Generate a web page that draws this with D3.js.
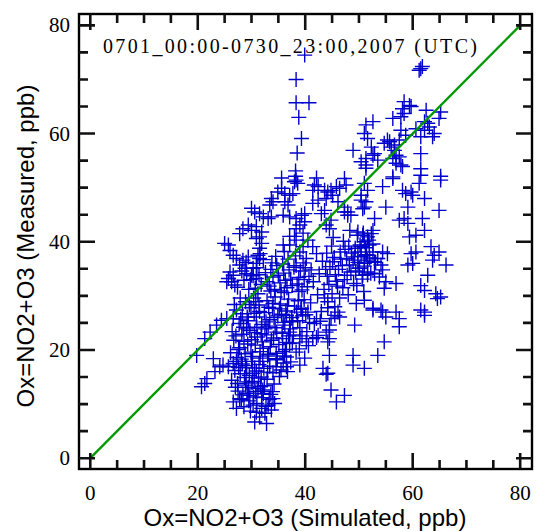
<!DOCTYPE html>
<html>
<head>
<meta charset="utf-8">
<script src="https://cdn.jsdelivr.net/npm/d3@7"></script>
<style>
  body { margin: 0; background: #fff; }
  svg { display: block; }
</style>
</head>
<body>
<div id="chart"></div>
<script>
// simulated (x) vs measured (y) Ox, ppb
var simulated = [
  39.9, 38.3, 38.3, 40.7, 38.8, 39.3, 38.5, 38.2, 38.2, 35.6, 42.1,
  61.5, 61.8, 61.2, 58.4, 59.4, 59.7, 58.1, 62.5, 65.2, 64.9, 56.3, 57.8, 58.4,
  62.2, 62.8, 63.1, 64.0, 62.2, 60.6, 52.6, 51.3, 51.0, 51.6,
  57.8, 58.7, 57.5, 56.6, 55.7, 55.3, 54.7, 61.5, 63.7, 61.5, 61.5,
  48.9, 52.3, 52.6, 51.3, 50.4, 51.3, 51.3, 52.9, 53.5,
  56.0, 56.6, 57.5, 56.9, 56.3, 57.8, 58.1, 56.9, 65.2, 61.5, 56.3, 47.3,
  38.3, 38.6, 38.0, 41.7, 42.4, 41.4, 43.6, 35.6, 34.9, 36.2, 37.7, 37.1,
  33.7, 33.4, 34.0, 36.2, 36.8, 41.4, 42.4, 43.6, 43.0,
  30.0, 30.6, 31.5, 32.2, 33.1, 33.7, 35.9, 37.1, 38.3, 39.3, 39.9, 39.9, 39.0, 38.3,
  28.4, 27.8, 29.4, 30.0, 30.9, 31.9, 31.5, 30.9, 31.9, 31.5,
  37.1, 38.0, 38.3, 39.6, 40.5, 41.4, 42.1, 39.6, 39.0, 40.2, 37.1, 35.9,
  25.0, 25.7, 26.0, 26.6,
  27.2, 28.4, 29.4, 27.8, 28.8, 30.3, 30.9, 31.5, 31.2, 29.1, 30.0, 30.9,
  26.0, 26.6, 25.7, 26.3, 26.9, 25.4,
  44.8, 45.8, 46.4, 44.2, 43.9, 45.1, 47.6, 51.0, 51.6, 50.4, 51.0, 50.7, 47.3, 47.9,
  56.3, 54.4, 55.0, 52.9, 52.6, 58.1, 58.7, 59.7, 60.0, 61.2, 62.2, 64.9, 65.2,
  59.1, 58.4, 57.5, 59.1, 61.8, 62.2, 59.4, 60.6, 44.8, 43.9, 44.5,
  46.1, 47.3, 47.9, 48.5, 50.4, 51.3, 49.8, 50.7, 51.6, 52.3,
  51.0, 50.4, 51.9, 52.6, 51.3, 49.8, 49.2,
  54.4, 55.3, 53.5, 52.9, 54.1, 51.6, 51.0, 50.1, 51.6, 50.7, 52.9, 54.4,
  59.7, 60.6, 59.1, 60.0, 63.4, 64.0, 64.9, 63.7, 66.2, 62.8, 61.5, 62.2, 64.3, 64.6, 65.2, 62.2,
  55.0, 56.9, 54.7, 53.8, 44.2, 45.5, 49.5, 51.0, 52.6, 54.1, 56.9, 61.5,
  45.5, 46.1, 44.8, 46.4, 49.2, 52.6, 54.4, 55.0, 57.5, 57.5, 62.2,
  44.5, 44.5, 44.2, 44.5, 48.9, 53.5, 54.7, 48.9, 51.0, 44.2, 44.8, 47.3, 45.8,
  19.8, 22.9, 21.3, 20.7, 21.7, 23.2, 24.1, 24.7, 25.7, 26.6,
  21.3, 22.3, 23.5, 24.4, 25.4,
  30.6, 32.8, 31.9, 33.1, 34.3, 33.7, 32.5, 30.9, 30.3, 27.2, 26.6, 27.8, 29.7, 32.2, 34.0,
  36.5, 36.5, 39.0, 43.3, 43.9, 34.6, 35.8, 37.1, 39.0, 40.2, 41.4, 42.4, 43.9, 44.5, 42.1, 40.5, 39.3, 36.5, 37.7, 37.1,
  27.5, 28.1, 28.6, 29.2, 29.8, 30.4, 31.0, 31.5, 32.1, 32.7, 33.3, 28.9, 30.1, 31.7, 33.9,
  26.3, 26.9, 27.4, 27.9, 28.3, 28.7, 29.1, 29.6, 30.0, 30.5, 30.9, 31.4, 31.8, 32.3, 32.9, 33.4, 34.0, 34.6, 35.2, 35.9, 27.2, 29.4, 31.2,
  26.1, 26.7, 27.3, 27.8, 28.2, 28.8, 29.3, 29.7, 30.2, 30.7, 31.1, 31.6, 32.0, 32.5, 33.0, 33.5, 34.1, 34.6, 35.1, 35.7, 36.3, 36.9, 37.6, 38.3, 26.4, 28.5, 30.6, 32.8, 34.4, 37.2,
  26.6, 27.2, 27.7, 28.3, 28.9, 29.4, 29.9, 30.4, 30.9, 31.4, 31.9, 32.4, 32.9, 33.4, 33.9, 34.4, 34.9, 35.4, 35.9, 36.4, 36.9, 37.5, 38.0, 38.6, 39.2, 39.8, 27.9, 31.2, 33.6, 36.1, 38.8,
  27.4, 28.6, 29.5, 30.3, 31.0, 31.8, 32.6, 33.3, 34.0, 34.7, 35.3, 36.0, 36.6, 37.3, 37.9, 38.5, 39.1, 39.8, 40.4, 41.1, 35.5, 33.8, 36.8, 38.2, 39.6,
  43.5, 44.1, 44.6, 45.0, 45.4, 45.8, 46.2, 46.6, 47.0, 47.4, 47.8, 48.2, 48.6, 49.0, 49.4, 49.8, 50.2, 50.6, 51.0, 51.4, 51.8, 52.2, 46.4, 48.0, 44.9, 47.1, 49.7, 43.2, 42.6, 50.9,
  40.1, 41.0, 41.7, 42.3, 43.0, 42.1, 40.6, 41.5, 42.8, 43.6, 39.4, 44.2, 38.9, 39.9,
  28.4, 29.0, 29.5, 30.2, 30.8, 31.3, 31.9, 32.4, 33.0, 33.6, 34.2, 34.8, 35.5, 36.1, 36.7, 37.3, 28.1, 29.9, 31.6, 33.2, 27.6, 28.9, 30.6, 32.1, 27.0,
  27.1, 27.6, 28.0, 28.6, 29.1, 29.6, 30.0, 30.5, 31.0, 31.5, 32.2, 32.7, 33.2, 33.7, 34.2, 34.7, 35.2, 35.8, 36.2, 36.7, 37.1, 37.8, 38.4, 39.0, 39.5, 40.3, 40.8, 29.2, 31.8, 34.0, 36.5, 38.7, 26.8, 30.8, 33.1, 35.6,
  28.2, 29.0, 29.8, 30.7, 31.4, 32.2, 32.9, 33.6, 34.3, 35.0, 35.8, 36.3, 37.0, 37.6, 38.3, 38.8, 39.4, 40.0, 40.7, 34.5, 31.6, 36.1,
  43.8, 44.4, 45.1, 45.6, 46.0, 46.5, 46.9, 47.3, 47.7, 48.1, 48.5, 48.9, 49.3, 49.6, 50.0, 50.4, 50.8, 51.2, 51.6, 52.0, 52.6, 53.1, 44.0, 45.2, 48.3
];
var measured = [
  74.5, 70.0, 65.7, 65.7, 63.0, 59.1, 56.4, 53.1, 52.1, 51.8, 51.8,
  72.0, 72.4, 71.7, 65.9, 65.2, 65.0, 64.6, 64.3, 64.0, 62.8, 62.8, 63.1, 63.7,
  62.2, 61.9, 61.2, 60.0, 60.6, 60.9, 62.2, 61.6, 60.0, 59.1,
  60.6, 59.7, 58.8, 57.9, 58.5, 58.8, 58.2, 59.4, 59.4, 56.3, 53.5,
  56.9, 57.5, 56.0, 55.4, 54.8, 54.2, 53.6, 56.3, 55.1,
  57.5, 56.9, 55.7, 56.0, 55.4, 54.2, 53.9, 54.5, 52.1, 52.3, 52.0, 51.7,
  51.4, 50.8, 51.1, 50.5, 50.2, 49.5, 49.5, 49.9, 49.2, 48.9, 48.9, 48.6,
  48.0, 46.8, 47.4, 47.4, 46.8, 47.1, 47.7, 45.8, 45.2,
  46.2, 45.5, 45.2, 44.6, 44.3, 44.6, 44.9, 44.6, 44.3, 44.9, 45.2, 43.7, 43.1, 42.4,
  42.4, 41.5, 43.1, 42.1, 42.8, 41.8, 40.9, 40.6, 39.7, 38.8,
  41.0, 41.0, 40.3, 41.6, 40.3, 39.1, 37.8, 39.1, 38.1, 36.9, 39.4, 39.4,
  39.7, 39.4, 38.4, 37.5,
  36.9, 36.6, 37.2, 35.7, 35.1, 35.1, 36.0, 36.9, 37.5, 34.1, 33.8, 33.2,
  34.4, 33.8, 33.2, 32.6, 32.0, 32.6,
  49.5, 50.2, 49.9, 49.2, 48.0, 48.6, 50.5, 50.8, 49.5, 47.7, 46.4, 46.1, 45.5, 44.9,
  51.7, 50.2, 46.4, 44.3, 42.1, 49.5, 48.9, 49.2, 48.6, 50.8, 48.0, 45.8, 51.4,
  46.4, 44.3, 44.0, 43.4, 44.3, 42.1, 40.9, 41.2, 44.0, 43.1, 42.4,
  47.4, 46.4, 45.5, 44.9, 48.6, 47.4, 41.8, 41.2, 40.9, 41.5,
  40.0, 39.1, 39.4, 38.1, 37.5, 38.1, 37.2,
  38.1, 37.8, 36.9, 36.3, 35.7, 36.6, 36.0, 35.1, 34.4, 33.8, 34.1, 34.8,
  37.8, 38.1, 35.7, 36.0, 39.1, 37.5, 38.1, 36.6, 35.7, 33.8, 31.9, 31.0, 30.4, 29.5, 29.8, 27.0,
  32.6, 32.3, 31.4, 33.5, 28.9, 28.0, 28.6, 29.2, 27.4, 27.4, 27.0, 27.4,
  26.4, 27.0, 25.8, 26.1, 24.6, 27.7, 27.0, 26.1, 25.8, 24.3, 26.4,
  23.7, 22.1, 21.5, 19.0, 19.0, 19.0, 21.5, 17.2, 16.6, 15.7, 12.6, 11.6, 10.4,
  19.0, 18.4, 13.8, 13.2, 14.7, 16.0, 16.9, 17.2, 16.9, 17.5,
  22.1, 23.3, 24.6, 25.5, 25.8,
  6.7, 6.4, 9.2, 9.8, 10.1, 8.9, 8.3, 8.5, 9.8, 9.2, 10.4, 11.0, 11.6, 11.9, 11.0,
  18.7, 16.9, 17.2, 16.6, 15.5, 18.4, 19.7, 21.2, 22.1, 21.5, 22.1, 22.7, 23.3, 24.6, 25.8, 27.0, 27.7, 26.4, 25.2, 23.3,
  12.4, 10.8, 9.5, 12.0, 8.7, 11.3, 10.1, 7.6, 12.6, 9.6, 10.9, 13.5, 13.9, 13.2, 12.3,
  14.4, 16.2, 13.8, 15.6, 17.4, 14.9, 16.7, 15.3, 17.9, 14.2, 16.1, 17.3, 15.0, 16.6, 14.6, 17.0, 15.8, 16.9, 15.1, 17.6, 17.9, 13.1, 12.9,
  19.5, 21.8, 18.6, 20.4, 22.9, 19.3, 21.1, 23.6, 18.8, 20.9, 22.4, 19.7, 21.5, 23.9, 18.9, 20.6, 22.2, 19.4, 21.0, 23.1, 20.1, 22.6, 21.3, 19.6, 23.4, 24.2, 23.2, 22.8, 24.1, 23.9,
  25.8, 27.4, 24.9, 26.7, 28.9, 25.4, 27.8, 29.6, 26.1, 28.3, 24.7, 26.9, 29.1, 25.6, 27.7, 29.8, 26.3, 28.5, 25.1, 27.2, 29.4, 26.0, 28.1, 25.4, 27.5, 29.3, 29.6, 30.4, 30.9, 30.6, 30.8,
  31.6, 32.9, 31.2, 33.7, 35.2, 32.1, 34.3, 31.8, 33.5, 35.6, 32.4, 34.2, 31.5, 33.1, 35.3, 32.2, 34.6, 33.0, 31.7, 34.8, 30.9, 36.1, 36.8, 37.4, 36.1,
  31.2, 33.6, 35.4, 30.4, 37.1, 32.7, 34.9, 36.8, 31.5, 38.6, 33.8, 35.7, 37.9, 32.3, 34.6, 36.2, 39.4, 33.1, 35.5, 37.6, 40.3, 34.2, 29.6, 30.2, 39.2, 40.1, 41.2, 36.4, 34.1, 30.8,
  26.5, 28.7, 24.9, 30.2, 27.1, 22.3, 20.8, 32.6, 25.3, 29.6, 22.6, 27.8, 20.2, 18.5,
  11.7, 14.1, 10.6, 15.7, 12.3, 14.8, 11.2, 13.4, 15.9, 11.8, 13.7, 18.2, 16.3, 18.9, 16.0, 17.8, 18.3, 19.6, 18.5, 19.2, 16.8, 17.1, 16.7, 17.9, 13.1,
  22.6, 20.1, 25.7, 21.6, 23.9, 28.4, 21.9, 26.8, 24.2, 27.1, 20.3, 25.2, 27.9, 21.8, 26.0, 23.3, 27.6, 22.1, 24.6, 28.2, 25.3, 22.8, 27.0, 24.1, 26.3, 23.4, 25.1, 26.1, 23.0, 28.6, 21.4, 29.1, 28.4, 28.9, 24.4, 26.6,
  34.6, 36.2, 33.0, 31.4, 33.9, 36.7, 32.6, 34.9, 31.2, 33.8, 35.9, 32.9, 34.8, 31.9, 35.6, 33.4, 31.1, 35.2, 33.6, 37.3, 37.8, 38.2,
  34.9, 32.1, 36.3, 33.9, 31.8, 38.1, 35.6, 33.0, 36.9, 39.2, 34.4, 36.6, 38.8, 31.9, 35.1, 37.3, 41.6, 38.9, 33.9, 37.0, 39.6, 36.2, 37.9, 40.8, 42.1
];
var majorTicks = [0, 20, 40, 60, 80];
var minorTicks = [5, 10, 15, 25, 30, 35, 45, 50, 55, 65, 70, 75];
var oneToOne = [0, 80];
var titleText = "0701_00:00-0730_23:00,2007 (UTC)";
var xLabel = "Ox=NO2+O3 (Simulated, ppb)";
var yLabel = "Ox=NO2+O3 (Measured, ppb)";

var width = 536, height = 531;
var margin = {top: 14, right: 4, bottom: 62, left: 79};
var w = width - margin.left - margin.right,
    h = height - margin.top - margin.bottom;

var points = simulated.map(function (d, i) {
    return {x: d, y: measured[i]};
});

var x = d3.scaleLinear().domain([-2.1, 82.2]).range([0, w]);
var y = d3.scaleLinear().domain([-2, 82.1]).range([h, 0]);

var svg = d3.select("#chart").append("svg")
    .attr("width", width)
    .attr("height", height);

var g = svg.append("g")
    .attr("transform", "translate(" + margin.left + "," + margin.top + ")");

// markers
var s = 7.5;
g.append("g").selectAll("path").data(points)
    .enter().append("path")
    .attr("d", function (d) {
        var px = x(d.x), py = y(d.y);
        return "M" + (px - s) + "," + py + "H" + (px + s) +
               "M" + px + "," + (py - s) + "V" + (py + s);
    })
    .attr("stroke", "#0000cc")
    .attr("stroke-width", 1.4)
    .attr("fill", "none");

// 1:1 line
g.append("line")
    .attr("x1", x(oneToOne[0])).attr("y1", y(oneToOne[0]))
    .attr("x2", x(oneToOne[1])).attr("y2", y(oneToOne[1]))
    .attr("stroke", "#009900")
    .attr("stroke-width", 2.4);

// frame
g.append("rect")
    .attr("width", w).attr("height", h)
    .attr("fill", "none")
    .attr("stroke", "#000")
    .attr("stroke-width", 2.4);

// inward ticks on all four sides
var major = 16, minor = 9;
function tickLen(v) { return majorTicks.indexOf(v) >= 0 ? major : minor; }
var allTicks = majorTicks.concat(minorTicks);
var tp = d3.path();
allTicks.forEach(function (v) {
    var L = tickLen(v), px = x(v), py = y(v);
    tp.moveTo(px, h); tp.lineTo(px, h - L);
    tp.moveTo(px, 0); tp.lineTo(px, L);
    tp.moveTo(0, py); tp.lineTo(L, py);
    tp.moveTo(w, py); tp.lineTo(w - L, py);
});
g.append("path")
    .attr("d", tp.toString())
    .style("fill", "none")
    .style("stroke", "#111")
    .style("stroke-width", "2.6px");

// tick labels
var serif = "'Liberation Serif', 'DejaVu Serif', serif";
g.append("g").selectAll("text").data(majorTicks).enter().append("text")
    .attr("x", function (d) { return x(d); })
    .attr("y", h + 31)
    .attr("text-anchor", "middle")
    .attr("font-family", serif).attr("font-size", 21)
    .text(function (d) { return d; });
g.append("g").selectAll("text").data(majorTicks).enter().append("text")
    .attr("x", -9)
    .attr("y", function (d) { return y(d) + 7; })
    .attr("text-anchor", "end")
    .attr("font-family", serif).attr("font-size", 21)
    .text(function (d) { return d; });

// title inside plot
g.append("text")
    .attr("x", 24).attr("y", 39)
    .attr("font-family", serif)
    .attr("font-size", 20)
    .attr("textLength", 374)
    .attr("lengthAdjust", "spacing")
    .attr("fill", "#000")
    .text(titleText);

// axis titles
svg.append("text")
    .attr("x", 305).attr("y", 526)
    .attr("text-anchor", "middle")
    .attr("font-family", "'Liberation Sans', Arial, sans-serif")
    .attr("font-size", 24)
    .attr("fill", "#000")
    .text(xLabel);

svg.append("text")
    .attr("transform", "translate(34,246) rotate(-90)")
    .attr("text-anchor", "middle")
    .attr("font-family", "'Liberation Sans', Arial, sans-serif")
    .attr("font-size", 24)
    .attr("fill", "#000")
    .text(yLabel);
</script>
</body>
</html>
